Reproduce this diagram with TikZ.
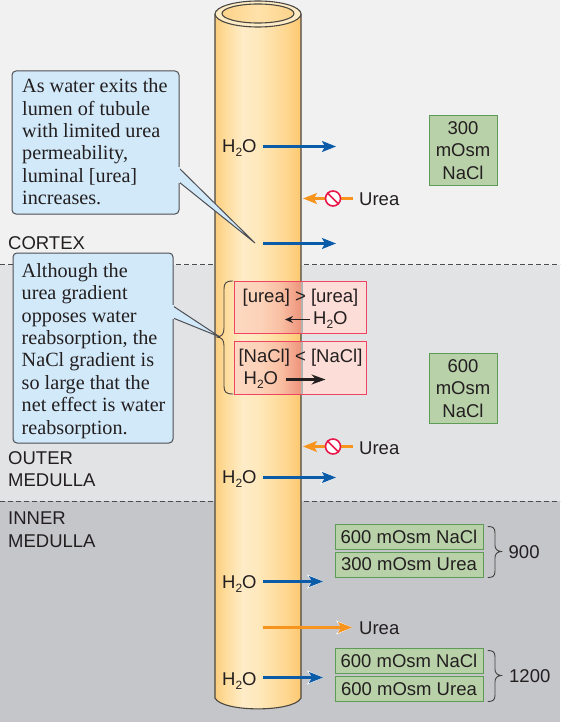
\documentclass[tikz,border=0pt]{standalone}
\usepackage{fontspec}
\setmainfont{Liberation Serif}
\setsansfont{Liberation Sans}
\usetikzlibrary{arrows.meta,shapes.geometric}
\definecolor{bgA}{HTML}{F1F1F2}
\definecolor{bgB}{HTML}{E2E3E5}
\definecolor{bgC}{HTML}{C5C6CA}
\definecolor{ink}{HTML}{231F20}
\definecolor{tubeline}{HTML}{4A4740}
\definecolor{calloutfill}{HTML}{D2E9F9}
\definecolor{calloutline}{HTML}{4D4F53}
\definecolor{greenfill}{HTML}{B9D1A9}
\definecolor{greenline}{HTML}{5E9B57}
\definecolor{redline}{HTML}{EE4462}
\definecolor{redfill}{HTML}{FDDDD7}
\definecolor{bluearrow}{HTML}{0B5CA8}
\definecolor{orangearrow}{HTML}{F7941E}
\definecolor{stopred}{HTML}{E8194B}
\pgfdeclarehorizontalshading{tubeshade}{100bp}{
  color(0bp)=(white);
  color(25bp)=({rgb,255:red,252;green,205;blue,125});
  color(31bp)=({rgb,255:red,254;green,220;blue,155});
  color(41bp)=({rgb,255:red,254;green,236;blue,200});
  color(50bp)=({rgb,255:red,254;green,232;blue,188});
  color(66bp)=({rgb,255:red,254;green,215;blue,145});
  color(75bp)=({rgb,255:red,252;green,200;blue,112});
  color(100bp)=(white)}
\pgfdeclarehorizontalshading{tubeinner}{100bp}{
  color(0bp)=(white);
  color(25bp)=({rgb,255:red,253;green,211;blue,138});
  color(50bp)=({rgb,255:red,254;green,226;blue,170});
  color(75bp)=({rgb,255:red,253;green,211;blue,138});
  color(100bp)=(white)}
\pgfdeclarehorizontalshading{redshade}{100bp}{
  color(0bp)=(white);
  color(25bp)=({rgb,255:red,253;green,216;blue,194});
  color(45bp)=({rgb,255:red,252;green,210;blue,184});
  color(60bp)=({rgb,255:red,249;green,190;blue,162});
  color(75bp)=({rgb,255:red,238;green,148;blue,124});
  color(100bp)=(white)}
\newcommand{\sz}{\fontsize{18.5}{22}\selectfont}
\newcommand{\water}{H\raisebox{-0.22em}{\fontsize{12}{12}\selectfont 2}O}
\tikzset{
  zone/.style={dashed,dash pattern=on 5pt off 3pt,draw=ink!80,line width=0.7pt},
  lab/.style={font=\sffamily\sz,text=ink,inner sep=0pt},
  leftlab/.style={lab,anchor=west,align=left},
  callout/.style={draw=calloutline,fill=calloutfill,rounded corners=4pt,line width=1pt},
  callouttext/.style={font=\rmfamily\fontsize{20.2}{22.4}\selectfont,text=ink,inner sep=0pt,anchor=north west,align=left},
  tail/.style={draw=calloutline,fill=calloutfill,line width=1pt,line join=miter},
  greenbox/.style={draw=greenline,fill=greenfill,line width=1pt,font=\sffamily\sz,text=ink,inner sep=0pt,align=center},
  redbox/.style={draw=redline,line width=1pt},
  halo/.style={preaction={draw=white,line width=2pt,-{Stealth[length=16pt,width=14pt]}}},
  bluearr/.style={draw=bluearrow,fill=bluearrow,line width=2.2pt,-{Stealth[length=14pt,width=11pt,inset=3pt]}},
  orangearr/.style={draw=orangearrow,fill=orangearrow,line width=2.2pt,-{Stealth[length=14pt,width=11pt,inset=3pt]}},
  stopsign/.style={circle,draw=stopred,fill=white,line width=1.6pt,minimum size=15pt,inner sep=0pt},
  brace/.style={draw=ink!85,line width=0.9pt,line cap=round},
}
\begin{document}
\begin{tikzpicture}[x=1pt,y=-1pt]
\useasboundingbox (0,0) rectangle (560,722);
% zones
\fill[bgA] (0,0) rectangle (560,265);
\fill[bgB] (0,265) rectangle (560,501);
\fill[bgC] (0,501) rectangle (560,722);
\coordinate (zaL) at (0,264.5); \coordinate (zaR) at (560,264.5);
\coordinate (zbL) at (0,501); \coordinate (zbR) at (560,501);
\draw[zone] (zaL) -- (zaR);
\draw[zone] (zbL) -- (zbR);
% tube
\path[shade,shading=tubeshade] (215,14) -- (215,698) .. controls (222,712.5) and (294,712.5) .. (301,698) -- (301,14) -- cycle;
\draw[tubeline,line width=1.1pt] (215,14) -- (215,698) .. controls (222,712.5) and (294,712.5) .. (301,698) -- (301,14);
\draw[tubeline,line width=1.1pt,fill={rgb,255:red,254;green,236;blue,198}] (258,14) ellipse [x radius=43pt,y radius=13pt];
\path[shade,shading=tubeinner] (258,13.5) ellipse [x radius=36pt,y radius=9.5pt];
\draw[tubeline,line width=1.1pt] (258,13.5) ellipse [x radius=36pt,y radius=9.5pt];
% region labels
\node[leftlab] (cortex) at (8,243) {CORTEX};
\node[leftlab] (outer) at (8,469) {OUTER\\[0.6pt]MEDULLA};
\node[leftlab] (inner) at (8,530) {INNER\\[0.6pt]MEDULLA};
% callout 1
\coordinate (tipA) at (255,243);
\node[callout,inner sep=0pt] (boxA) at (95.5,142.5) {\rule{0pt}{143pt}\rule{167pt}{0pt}};
\draw[tail] (179,168) -- (tipA) -- (179,182);
\fill[calloutfill] (177,167) rectangle (179.6,183);
\node[callouttext] (textA) at (22,78.5) {As water exits the\\lumen of tubule\\with limited urea\\permeability,\\luminal [urea]\\increases.};
% callout 2
\coordinate (tipB) at (220,337);
\node[callout,inner sep=0pt] (boxB) at (93,348) {\rule{0pt}{190pt}\rule{160pt}{0pt}};
\draw[tail] (173,306) -- (tipB) -- (173,318);
\fill[calloutfill] (171,305) rectangle (173.6,319);
\node[callouttext] (textB) at (21.5,263) {Although the\\urea gradient\\opposes water\\reabsorption, the\\NaCl gradient is\\so large that the\\net effect is water\\reabsorption.};
% brace left
\draw[brace] (233,281) .. controls (226,281) and (224,283) .. (224,289) -- (224,328) .. controls (224,334) and (222,336.5) .. (217,337)
  .. controls (222,337.5) and (224,340) .. (224,346) -- (224,386) .. controls (224,392) and (226,394) .. (233,394);
% red boxes
\fill[redfill] (234,281) rectangle (366,333);
\fill[redfill] (234,341) rectangle (366,394);
\path[shade,shading=redshade] (234,281) rectangle (301,333);
\path[shade,shading=redshade] (234,341) rectangle (301,394);
\fill[black!30] (301,281) rectangle (303,333);
\fill[black!30] (301,341) rectangle (303,394);
\node[redbox,minimum width=132pt,minimum height=52pt,inner sep=0pt] (redA) at (300.5,307.5) {};
\node[redbox,minimum width=132pt,minimum height=53pt,inner sep=0pt] (redB) at (300.5,368) {};
\node[lab] (ureaeq) at (300.5,297.5) {[urea] > [urea]};
\node[lab,anchor=west] (redAw) at (313,320) {\water};
\coordinate (redAs) at (309.5,319.5);
\coordinate (redAe) at (285,319.5);
\draw[ink,line width=1.2pt,-{Stealth[length=8pt,width=7pt]}] (redAs) -- (redAe);
\node[lab] (naeq) at (300.5,357.5) {[NaCl] < [NaCl]};
\node[lab,anchor=west] (redBw) at (243.5,380) {\water};
\coordinate (redBs) at (286,379.5);
\coordinate (redBe) at (325.5,379.5);
\draw[ink,line width=2.2pt,-{Stealth[length=14pt,width=10pt]}] (redBs) -- (redBe);
% water arrows and labels
\node[lab,anchor=west] (w1) at (222,148.5) {\water};
\coordinate (w1s) at (263,146.5); \coordinate (w1e) at (336,146.5);
\draw[bluearr] (w1s) -- (w1e);
\coordinate (w2s) at (263,243.5); \coordinate (w2e) at (336,243.5);
\draw[bluearr] (w2s) -- (w2e);
\node[lab,anchor=west] (w3) at (222,479.5) {\water};
\coordinate (w3s) at (263,477.5); \coordinate (w3e) at (336,477.5);
\draw[bluearr,halo] (w3s) -- (w3e);
\node[lab,anchor=west] (w4) at (222,584) {\water};
\coordinate (w4s) at (263,581.5); \coordinate (w4e) at (323,581.5);
\draw[bluearr,halo] (w4s) -- (w4e);
\node[lab,anchor=west] (w5) at (222,681) {\water};
\coordinate (w5s) at (263,677.5); \coordinate (w5e) at (323,677.5);
\draw[bluearr,halo] (w5s) -- (w5e);
% urea
\node[lab,anchor=west] (u1) at (359,199.5) {Urea};
\coordinate (u1s) at (353,198.5); \coordinate (u1e) at (303,198.5);
\draw[orangearr] (u1s) -- (u1e);
\node[stopsign] (stop1) at (333,198.5) {};
\draw[stopred,line width=1.6pt] (stop1.135) -- (stop1.-45);
\node[lab,anchor=west] (u2) at (359,448) {Urea};
\coordinate (u2s) at (353,446.5); \coordinate (u2e) at (303,446.5);
\draw[orangearr] (u2s) -- (u2e);
\node[stopsign] (stop2) at (333,446.5) {};
\draw[stopred,line width=1.6pt] (stop2.135) -- (stop2.-45);
\node[lab,anchor=west] (u3) at (359,628.5) {Urea};
\coordinate (u3s) at (263,627.5);
\coordinate (u3e) at (352,627.5);
\draw[orangearr,halo] (u3s) -- (u3e);
% green boxes
\node[greenbox,minimum width=68pt,minimum height=70pt] (g300) at (463,150.5) {300\\[0.5pt]mOsm\\[0.5pt]NaCl};
\node[greenbox,minimum width=68pt,minimum height=70pt] (g600) at (463,388.5) {600\\[0.5pt]mOsm\\[0.5pt]NaCl};
\node[greenbox,minimum width=148pt,minimum height=25pt] (gA) at (409,536.5) {600 mOsm NaCl};
\node[greenbox,minimum width=148pt,minimum height=25pt] (gB) at (409,564.5) {300 mOsm Urea};
\node[greenbox,minimum width=148pt,minimum height=25pt] (gC) at (409,661) {600 mOsm NaCl};
\node[greenbox,minimum width=148pt,minimum height=25pt] (gD) at (409,689) {600 mOsm Urea};
% right braces
\draw[brace] (488,526.5) .. controls (493,526.5) and (495,528) .. (495,533) -- (495,545) .. controls (495,549) and (497,551) .. (501,551.5)
  .. controls (497,552) and (495,554) .. (495,558) -- (495,571) .. controls (495,576) and (493,577.5) .. (488,577.5);
\draw[brace] (488,650.5) .. controls (493,650.5) and (495,652) .. (495,657) -- (495,669) .. controls (495,673) and (497,675) .. (501,675.5)
  .. controls (497,676) and (495,678) .. (495,682) -- (495,695) .. controls (495,700) and (493,701.5) .. (488,701.5);
\node[lab,anchor=west] (n900) at (508.5,552) {900};
\node[lab,anchor=west] (n1200) at (509,676) {1200};
\end{tikzpicture}
\end{document}
